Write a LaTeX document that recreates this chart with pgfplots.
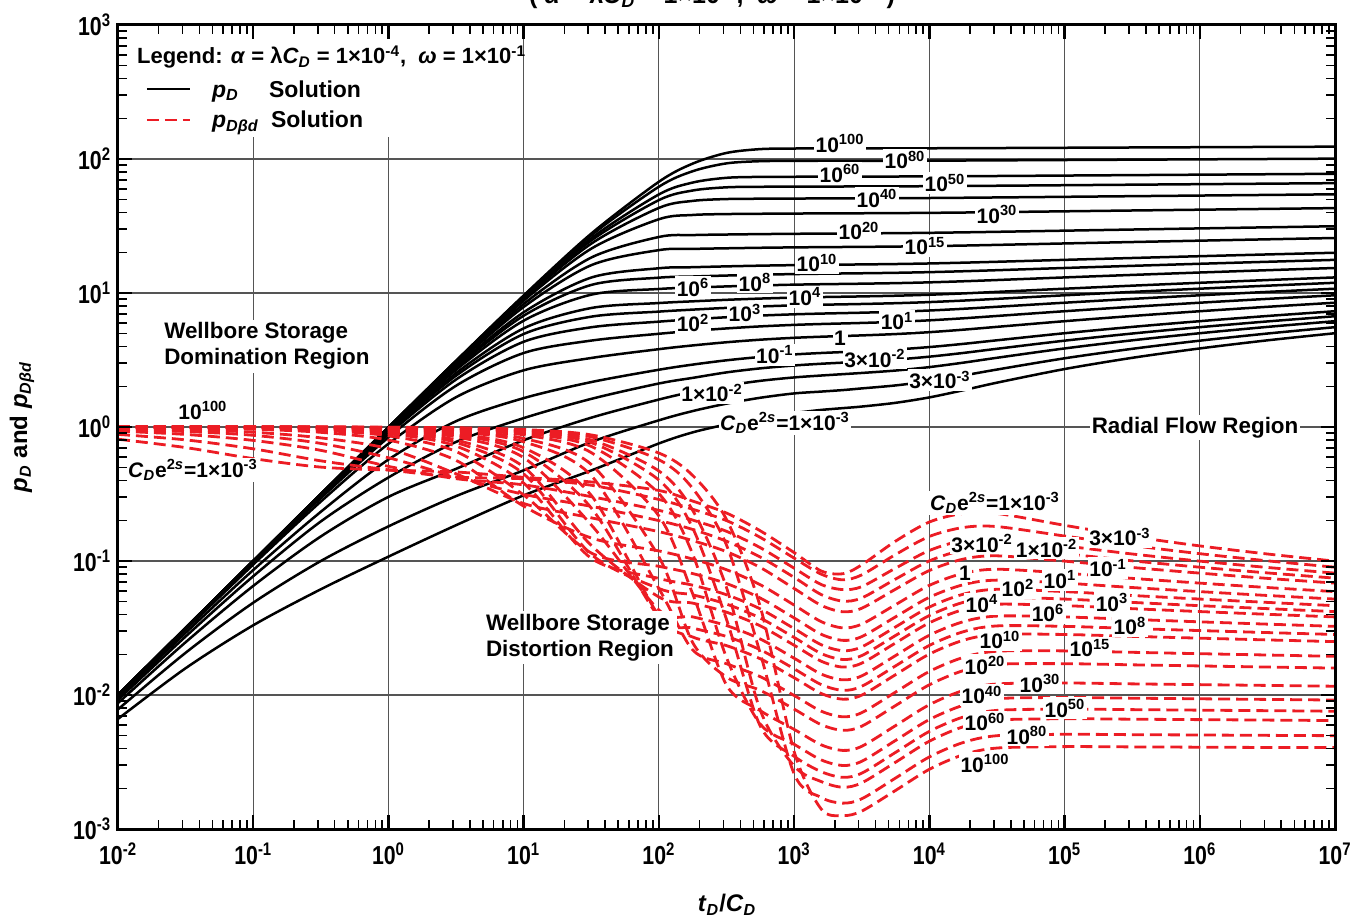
\documentclass[border=0pt]{standalone}
\usepackage{fontspec}
\setmainfont{Liberation Sans}
\usepackage{pgfplots}
\usepackage{pgfplotstable}
\pgfplotsset{compat=1.18}

\definecolor{wsred}{RGB}{236,28,36}
\definecolor{gridgray}{RGB}{85,85,85}

% tick label: condensed power of ten
\newcommand{\tl}[1]{\scalebox{0.82}[1]{10\textsuperscript{#1}}}
\newcommand{\pt}[1]{10\textsuperscript{#1}}
\newcommand{\CDs}{\textit{C}\textsubscript{\textit{D}}e\textsuperscript{2\textit{s}}}

% p_D for each C_D e^{2s}
\pgfplotstableread{
x m3 t3 m2 t2 m1 p0 p1 p2 p3 p4 p6 p8 p10 p15 p20 p30 p40 p50 p60 p80 p100
0.01 0.00663 0.007814 0.008704 0.009215 0.00955 0.009842 0.009938 0.00997 0.00998 0.009987 0.009992 0.009994 0.009995 0.009997 0.009998 0.009999 0.009999 0.009999 0.009999 0.01 0.01
0.03162 0.01584 0.02066 0.02476 0.02731 0.02909 0.03062 0.03120 0.03139 0.03147 0.03151 0.03155 0.03156 0.03158 0.03159 0.03160 0.03161 0.03161 0.03161 0.03161 0.03161 0.03162
0.1 0.03314 0.04882 0.06517 0.07694 0.08563 0.09402 0.09703 0.09819 0.09871 0.09901 0.09932 0.09948 0.09958 0.09972 0.09979 0.09986 0.09989 0.09991 0.09993 0.09995 0.09996
0.3162 0.06153 0.1000 0.1525 0.1974 0.2330 0.2777 0.2943 0.3015 0.3052 0.3075 0.3100 0.3114 0.3122 0.3135 0.3141 0.3148 0.3151 0.3154 0.3155 0.3157 0.3158
1 0.1078 0.1813 0.3010 0.4202 0.5715 0.7500 0.8369 0.8809 0.9063 0.9229 0.9432 0.9550 0.9627 0.9739 0.9799 0.9863 0.9896 0.9916 0.9929 0.9947 0.9957
3.162 0.185 0.305 0.4873 0.7737 1.105 1.669 2.032 2.261 2.414 2.524 2.668 2.760 2.822 2.918 2.971 3.030 3.061 3.080 3.093 3.110 3.120
10 0.309 0.475 0.797 1.165 1.642 2.649 3.566 4.326 4.943 5.447 6.216 6.767 7.181 7.867 8.285 8.771 9.042 9.214 9.334 9.491 9.587
31.62 0.474 0.774 1.174 1.622 2.164 3.274 4.415 5.551 6.660 7.730 9.720 11.488 13.040 16.133 18.394 21.425 23.342 24.657 25.616 26.911 27.752
100 0.754 1.122 1.603 2.112 2.675 3.810 4.962 6.113 7.264 8.416 10.717 13.015 15.301 20.897 26.190 35.523 43.151 49.342 54.403 62.101 67.631
177.8 0.912 1.315 1.832 2.326 2.922 4.062 5.214 6.365 7.516 8.667 10.970 13.273 15.575 21.327 27.05 38.215 48.672 58.185 66.707 81.030 92.378
316.2 1.046 1.494 2.036 2.556 3.146 4.290 5.441 6.593 7.744 8.895 11.198 13.500 15.803 21.560 27.316 38.818 50.248 61.483 72.382 92.768 110.963
562.3 1.181 1.653 2.211 2.739 3.332 4.483 5.634 6.786 7.937 9.088 11.391 13.693 15.996 21.753 27.509 39.022 50.534 62.041 73.526 96.301 118.527
1000 1.272 1.781 2.344 2.878 3.480 4.631 5.782 6.934 8.085 9.236 11.539 13.841 16.144 21.900 27.657 39.170 50.683 62.196 73.709 96.732 119.733
1585 1.341 1.838 2.422 2.965 3.567 4.718 5.870 7.021 8.172 9.324 11.626 13.929 16.231 21.988 27.744 39.257 50.770 62.283 73.796 96.822 119.848
2291 1.383 1.886 2.479 3.022 3.624 4.775 5.926 7.078 8.229 9.380 11.683 13.985 16.288 22.044 27.801 39.314 50.827 62.340 73.853 96.879 119.905
3162 1.421 1.941 2.531 3.073 3.675 4.826 5.978 7.129 8.280 9.432 11.734 14.037 16.339 22.096 27.852 39.365 50.878 62.391 73.904 96.930 119.956
5623 1.515 2.043 2.638 3.185 3.787 4.938 6.089 7.241 8.392 9.543 11.846 14.148 16.451 22.208 27.964 39.477 50.990 62.503 74.016 97.042 120.068
10000 1.663 2.200 2.799 3.348 3.950 5.101 6.253 7.404 8.555 9.706 12.009 14.312 16.614 22.371 28.127 39.640 51.153 62.666 74.179 97.205 120.231
17783 1.880 2.422 3.020 3.569 4.171 5.323 6.474 7.625 8.777 9.928 12.231 14.533 16.836 22.592 28.349 39.862 51.375 62.888 74.401 97.427 120.453
31623 2.142 2.684 3.286 3.835 4.437 5.589 6.740 7.891 9.043 10.194 12.497 14.799 17.102 22.858 28.615 40.128 51.641 63.154 74.667 97.693 120.719
1e5 2.707 3.256 3.858 4.408 5.010 6.161 7.312 8.464 9.615 10.766 13.069 15.371 17.674 23.431 29.187 40.700 52.213 63.726 75.239 98.265 121.291
3.162e5 3.283 3.832 4.434 4.983 5.585 6.737 7.888 9.039 10.19 11.342 13.644 15.947 18.250 24.006 29.763 41.276 52.789 64.302 75.815 98.841 121.867
1e6 3.858 4.408 5.010 5.559 6.161 7.312 8.464 9.615 10.77 11.918 14.220 16.523 18.825 24.582 30.338 41.851 53.364 64.877 76.390 99.416 122.442
3.162e6 4.434 4.983 5.585 6.135 6.737 7.888 9.039 10.191 11.34 12.493 14.796 17.098 19.401 25.157 30.914 42.427 53.940 65.453 76.966 99.992 123.018
1e7 5.010 5.559 6.161 6.710 7.312 8.464 9.615 10.766 11.92 13.069 15.371 17.674 19.977 25.733 31.490 43.003 54.516 66.029 77.542 100.568 123.594
}\pDtab

% p_Dbd (log-derivative) for each C_D e^{2s}
\pgfplotstableread{
x m3 t3 m2 t2 m1 p0 p1 p2 p3 p4 p6 p8 p10 p15 p20 p30 p40 p50 p60 p80 p100
0.01 0.811 0.8812 0.9312 0.9587 0.9761 0.991 0.9961 0.9978 0.9985 0.9989 0.99925 0.99944 0.99955 0.9997 0.99978 0.99986 0.9999 0.99991 0.99993 0.99995 0.99996
0.03162 0.7024 0.8016 0.8799 0.9254 0.9561 0.981 0.9909 0.9943 0.9959 0.9968 0.9978 0.99835 0.99866 0.99911 0.99933 0.99955 0.99966 0.99973 0.99977 0.99983 0.99987
0.1 0.581 0.6875 0.7943 0.8669 0.9141 0.9618 0.9778 0.985 0.9888 0.9910 0.99363 0.99507 0.99598 0.99725 0.99791 0.9986 0.99894 0.99915 0.99929 0.99947 0.99957
0.3162 0.502 0.5591 0.6696 0.7546 0.8294 0.9125 0.9445 0.9599 0.9688 0.9745 0.9813 0.9853 0.9879 0.9916 0.9936 0.99562 0.99667 0.99733 0.99777 0.99832 0.99865
1 0.477 0.4791 0.5084 0.5895 0.6888 0.7985 0.8586 0.892 0.9132 0.9275 0.9455 0.9564 0.9637 0.9744 0.9802 0.9864 0.9897 0.9917 0.9930 0.9947 0.9957
3.162 0.4616 0.423 0.4116 0.4242 0.4478 0.5640 0.6565 0.7208 0.7664 0.7996 0.8443 0.873 0.8928 0.9228 0.9397 0.9580 0.9679 0.9740 0.9781 0.9834 0.9866
10 0.421 0.4105 0.370 0.3144 0.2686 0.2567 0.3109 0.3814 0.447 0.5034 0.5905 0.6534 0.6999 0.7762 0.8218 0.8733 0.9019 0.9200 0.9324 0.9485 0.9584
31.62 0.389 0.3676 0.302 0.2556 0.210 0.1485 0.1147 0.1048 0.112 0.1307 0.1861 0.2487 0.3088 0.434 0.5253 0.6441 0.7163 0.7645 0.80 0.8442 0.8728
100 0.336 0.2878 0.2389 0.2002 0.1656 0.1189 0.0913 0.0741 0.0623 0.0539 0.0431 0.0382 0.0389 0.0623 0.1073 0.2169 0.3182 0.4018 0.4695 0.5697 0.6393
177.8 0.280 0.2433 0.202 0.172 0.1420 0.1034 0.0806 0.0660 0.0559 0.0485 0.0383 0.03164 0.0271 0.0217 0.0246 0.0569 0.1126 0.1763 0.2388 0.3483 0.4350
316.2 0.228 0.2003 0.1666 0.1405 0.1174 0.0861 0.0679 0.0560 0.0477 0.0415 0.03297 0.02735 0.02336 0.01712 0.0136 0.01187 0.0190 0.0367 0.0634 0.1316 0.2043
562.3 0.168 0.150 0.1257 0.107 0.0894 0.0665 0.0529 0.0439 0.0375 0.0328 0.02616 0.02176 0.01863 0.0137 0.01083 0.00764 0.00606 0.00585 0.00769 0.0204 0.0455
1000 0.1156 0.1051 0.0884 0.0755 0.0624 0.0469 0.0376 0.0313 0.0269 0.02352 0.01882 0.01569 0.01345 0.00992 0.00785 0.00554 0.00429 0.00349 0.00295 0.00258 0.00379
1585 0.0843 0.0798 0.0668 0.0562 0.0467 0.0353 0.0284 0.02374 0.0204 0.01788 0.01434 0.01197 0.01027 0.00758 0.00601 0.00425 0.00328 0.00268 0.00226 0.00172 0.00141
2291 0.0803 0.0724 0.0612 0.0502 0.0418 0.0317 0.02558 0.02142 0.01842 0.01616 0.01298 0.01084 0.00931 0.00688 0.00545 0.00386 0.00298 0.00243 0.00205 0.00156 0.00126
3162 0.0936 0.0788 0.0644 0.0530 0.0444 0.0338 0.02727 0.02286 0.01969 0.01728 0.01389 0.01161 0.00998 0.00738 0.00585 0.00414 0.00320 0.00261 0.00221 0.00168 0.00136
5623 0.1406 0.1117 0.0884 0.0733 0.0616 0.0472 0.0383 0.03222 0.0278 0.02445 0.01969 0.01649 0.01418 0.01051 0.00834 0.00591 0.00458 0.00373 0.00315 0.00240 0.00194
10000 0.1954 0.1525 0.1198 0.1002 0.0849 0.0658 0.0536 0.0453 0.0392 0.03456 0.02793 0.02344 0.02019 0.01499 0.01192 0.00846 0.00656 0.00535 0.00452 0.00345 0.00279
17783 0.2266 0.1778 0.1426 0.1207 0.1033 0.0809 0.0665 0.0565 0.0491 0.04338 0.03521 0.02964 0.02558 0.01906 0.01519 0.01080 0.00838 0.00685 0.00579 0.00442 0.00358
31623 0.2264 0.1807 0.1476 0.1265 0.1093 0.0868 0.0720 0.0615 0.0536 0.04759 0.03882 0.03278 0.02837 0.02122 0.01695 0.01209 0.00939 0.00768 0.00650 0.00497 0.00402
1e5 0.1847 0.1536 0.1296 0.1134 0.0998 0.0812 0.0684 0.0591 0.0520 0.04644 0.03826 0.03253 0.02829 0.02134 0.01713 0.01229 0.00958 0.00785 0.00665 0.00509 0.00412
3.162e5 0.1523 0.1305 0.1128 0.1003 0.0895 0.0742 0.0634 0.0553 0.0491 0.04408 0.03665 0.03135 0.02740 0.02083 0.01680 0.01211 0.00947 0.00778 0.00660 0.00506 0.00410
1e6 0.1296 0.1134 0.0998 0.0899 0.0812 0.0684 0.0591 0.0520 0.0464 0.04195 0.03516 0.03026 0.02656 0.02034 0.01648 0.01195 0.00937 0.00771 0.00655 0.00503 0.00408
3.162e6 0.1128 0.1003 0.0895 0.0815 0.0742 0.0634 0.0553 0.0491 0.0441 0.04002 0.03379 0.02924 0.02577 0.01988 0.01617 0.01179 0.00927 0.00764 0.00650 0.00500 0.00406
1e7 0.0998 0.0899 0.0812 0.0745 0.0684 0.0591 0.0520 0.0464 0.0419 0.03826 0.03253 0.02829 0.02503 0.01943 0.01588 0.01163 0.00917 0.00757 0.00645 0.00497 0.00405
}\pDbdtab

\tikzset{
  blk/.style={black, line width=1.25pt, smooth},
  rdd/.style={wsred, line width=1.4pt, dash pattern=on 6pt off 3pt, smooth},
  gridln/.style={gridgray, line width=0.6pt},
  lab/.style={fill=white, inner sep=0.8pt, font=\fontsize{10.5}{10.5}\selectfont\bfseries},
  txt/.style={fill=white, inner sep=1.5pt, align=left, font=\fontsize{11.2}{13}\selectfont\bfseries},
}

\begin{document}
\begin{tikzpicture}[font=\bfseries]
\begin{axis}[
  xmode=log, ymode=log,
  xmin=1e-2, xmax=1e7, ymin=1e-3, ymax=1e3,
  width=608.5pt, height=402pt, scale only axis,
  axis on top, clip mode=individual,
  axis line style={line width=1.5pt},
  tick align=inside,
  major tick length=7pt, minor tick length=4.5pt,
  tick style={black},
  major tick style={line width=1.2pt},
  minor tick style={line width=0.8pt},
  xtick={1e-2,1e-1,1,1e1,1e2,1e3,1e4,1e5,1e6,1e7},
  xticklabels={\tl{-2},\tl{-1},\tl{0},\tl{1},\tl{2},\tl{3},\tl{4},\tl{5},\tl{6},\tl{7}},
  ytick={1e-3,1e-2,1e-1,1,1e1,1e2,1e3},
  yticklabels={\tl{-3},\tl{-2},\tl{-1},\tl{0},\tl{1},\tl{2},\tl{3}},
  minor xtick={2e-2,3e-2,4e-2,5e-2,6e-2,7e-2,8e-2,9e-2,
    2e-1,3e-1,4e-1,5e-1,6e-1,7e-1,8e-1,9e-1,
    2,3,4,5,6,7,8,9, 20,30,40,50,60,70,80,90,
    200,300,400,500,600,700,800,900,
    2e3,3e3,4e3,5e3,6e3,7e3,8e3,9e3,
    2e4,3e4,4e4,5e4,6e4,7e4,8e4,9e4,
    2e5,3e5,4e5,5e5,6e5,7e5,8e5,9e5,
    2e6,3e6,4e6,5e6,6e6,7e6,8e6,9e6},
  minor ytick={2e-3,3e-3,4e-3,5e-3,6e-3,7e-3,8e-3,9e-3,
    2e-2,3e-2,4e-2,5e-2,6e-2,7e-2,8e-2,9e-2,
    2e-1,3e-1,4e-1,5e-1,6e-1,7e-1,8e-1,9e-1,
    2,3,4,5,6,7,8,9, 20,30,40,50,60,70,80,90,
    200,300,400,500,600,700,800,900},
  ticklabel style={font=\fontsize{13}{13}\selectfont\bfseries},
  xticklabel style={yshift=-3.5pt},
]
\coordinate (bbSW) at (rel axis cs:-0.09696,-0.11194);
\coordinate (bbNE) at (rel axis cs:1.01561,1.03109);

% decade grid
\draw[gridln] (axis cs:0.1,1e-3) -- (axis cs:0.1,1e3);
\draw[gridln] (axis cs:1,1e-3) -- (axis cs:1,1e3);
\draw[gridln] (axis cs:10,1e-3) -- (axis cs:10,1e3);
\draw[gridln] (axis cs:100,1e-3) -- (axis cs:100,1e3);
\draw[gridln] (axis cs:1e3,1e-3) -- (axis cs:1e3,1e3);
\draw[gridln] (axis cs:1e4,1e-3) -- (axis cs:1e4,1e3);
\draw[gridln] (axis cs:1e5,1e-3) -- (axis cs:1e5,1e3);
\draw[gridln] (axis cs:1e6,1e-3) -- (axis cs:1e6,1e3);
\draw[gridln] (axis cs:1e-2,1e-2) -- (axis cs:1e7,1e-2);
\draw[gridln] (axis cs:1e-2,1e-1) -- (axis cs:1e7,1e-1);
\draw[gridln] (axis cs:1e-2,1) -- (axis cs:1e7,1);
\draw[gridln] (axis cs:1e-2,10) -- (axis cs:1e7,10);
\draw[gridln] (axis cs:1e-2,100) -- (axis cs:1e7,100);

% legend panel
\fill[white] (rel axis cs:0.0016,0.8607) rectangle (rel axis cs:0.3287,0.9975);

\pgfplotsinvokeforeach{m3,t3,m2,t2,m1,p0,p1,p2,p3,p4,p6,p8,p10,p15,p20,p30,p40,p50,p60,p80,p100}{
  \addplot[blk] table[x=x,y=#1]{\pDtab};
}
\pgfplotsinvokeforeach{m3,t3,m2,t2,m1,p0,p1,p2,p3,p4,p6,p8,p10,p15,p20,p30,p40,p50,p60,p80,p100}{
  \addplot[rdd] table[x=x,y=#1]{\pDbdtab};
}

% legend
\node[anchor=base west, font=\fontsize{11}{11}\selectfont\bfseries] at (rel axis cs:0.0099,0.9515)
  {Legend: \textit{α} = λ\textit{C}\textsubscript{\textit{D}} = 1×10\textsuperscript{-4}, \ \textit{ω} = 1×10\textsuperscript{-1}};
\draw[black, line width=1.25pt] (rel axis cs:0.0238,0.9204) -- (rel axis cs:0.0592,0.9204);
\draw[wsred, line width=1.4pt, dash pattern=on 6pt off 3pt] (rel axis cs:0.0238,0.8818) -- (rel axis cs:0.0592,0.8818);
\node[anchor=base west, font=\fontsize{11.5}{11.5}\selectfont\bfseries] at (rel axis cs:0.0715,0.9104) {\textit{p}\textsubscript{\textit{D}}};
\node[anchor=base west, font=\fontsize{11.5}{11.5}\selectfont\bfseries] at (rel axis cs:0.1183,0.9104) {Solution};
\node[anchor=base west, font=\fontsize{11.5}{11.5}\selectfont\bfseries] at (rel axis cs:0.0715,0.8719) {\textit{p}\textsubscript{\textit{Dβd}}};
\node[anchor=base west, font=\fontsize{11.5}{11.5}\selectfont\bfseries] at (rel axis cs:0.1200,0.8719) {Solution};

% region notes
\node[txt] at (rel axis cs:0.1224,0.6007) {Wellbore Storage\\Domination Region};
\node[txt] at (rel axis cs:0.3796,0.2376) {Wellbore Storage\\Distortion Region};
\node[txt, inner sep=1pt] at (rel axis cs:0.8850,0.4988) {Radial Flow Region};

% p_D curve labels
\node[lab] at (rel axis cs:0.5933,0.8532) {\pt{100}};
\node[lab] at (rel axis cs:0.6467,0.8321) {\pt{80}};
\node[lab] at (rel axis cs:0.5933,0.8159) {\pt{60}};
\node[lab] at (rel axis cs:0.6795,0.8035) {\pt{50}};
\node[lab] at (rel axis cs:0.6237,0.7848) {\pt{40}};
\node[lab] at (rel axis cs:0.7223,0.7649) {\pt{30}};
\node[lab] at (rel axis cs:0.6089,0.7438) {\pt{20}};
\node[lab] at (rel axis cs:0.6631,0.7251) {\pt{15}};
\node[lab] at (rel axis cs:0.5744,0.7040) {\pt{10}};
\node[lab] at (rel axis cs:0.5234,0.6803) {\pt{8}};
\node[lab] at (rel axis cs:0.4725,0.6741) {\pt{6}};
\node[lab] at (rel axis cs:0.5645,0.6617) {\pt{4}};
\node[lab] at (rel axis cs:0.5152,0.6418) {\pt{3}};
\node[lab] at (rel axis cs:0.4725,0.6294) {\pt{2}};
\node[lab] at (rel axis cs:0.6401,0.6318) {\pt{1}};
\node[lab] at (rel axis cs:0.5933,0.6107) {1};
\node[lab] at (rel axis cs:0.5398,0.5896) {\pt{-1}};
\node[lab] at (rel axis cs:0.6220,0.5858) {3×\pt{-2}};
\node[lab] at (rel axis cs:0.6754,0.5585) {3×\pt{-3}};
\node[lab] at (rel axis cs:0.4881,0.5423) {1×\pt{-2}};
\node[lab] at (rel axis cs:0.5481,0.5050) {\CDs=1×\pt{-3}};

% p_Dbd curve labels
\node[lab] at (rel axis cs:0.0698,0.5211) {\pt{100}};
\node[lab] at (rel axis cs:0.0616,0.4465) {\CDs=1×\pt{-3}};
\node[lab] at (rel axis cs:0.7206,0.4055) {\CDs=1×\pt{-3}};
\node[lab] at (rel axis cs:0.7100,0.3557) {3×\pt{-2}};
\node[lab] at (rel axis cs:0.7630,0.3495) {1×\pt{-2}};
\node[lab] at (rel axis cs:0.8233,0.3632) {3×\pt{-3}};
\node[lab] at (rel axis cs:0.8135,0.3246) {\pt{-1}};
\node[lab] at (rel axis cs:0.6960,0.3184) {1};
\node[lab] at (rel axis cs:0.7740,0.3097) {\pt{1}};
\node[lab] at (rel axis cs:0.7395,0.2998) {\pt{2}};
\node[lab] at (rel axis cs:0.8168,0.2823) {\pt{3}};
\node[lab] at (rel axis cs:0.7099,0.2799) {\pt{4}};
\node[lab] at (rel axis cs:0.7642,0.2687) {\pt{6}};
\node[lab] at (rel axis cs:0.8315,0.2525) {\pt{8}};
\node[lab] at (rel axis cs:0.7247,0.2351) {\pt{10}};
\node[lab] at (rel axis cs:0.7987,0.2251) {\pt{15}};
\node[lab] at (rel axis cs:0.7124,0.2040) {\pt{20}};
\node[lab] at (rel axis cs:0.7576,0.1816) {\pt{30}};
\node[lab] at (rel axis cs:0.7099,0.1667) {\pt{40}};
\node[lab] at (rel axis cs:0.7781,0.1505) {\pt{50}};
\node[lab] at (rel axis cs:0.7124,0.1331) {\pt{60}};
\node[lab] at (rel axis cs:0.7469,0.1169) {\pt{80}};
\node[lab] at (rel axis cs:0.7124,0.0821) {\pt{100}};

% axis titles
\node[rotate=90, font=\fontsize{12}{12}\selectfont\bfseries] at (rel axis cs:-0.0789,0.5)
  {\textit{p}\textsubscript{\textit{D}} and \textit{p}\textsubscript{\textit{Dβd}}};
\node[font=\fontsize{12}{12}\selectfont\bfseries] at (rel axis cs:0.5004,-0.0945)
  {\textit{t}\textsubscript{\textit{D}}/\textit{C}\textsubscript{\textit{D}}};
\node[anchor=base, font=\fontsize{12.5}{12.5}\selectfont\bfseries] at (rel axis cs:0.4881,1.0268)
  {( \textit{α} = λ\textit{C}\textsubscript{\textit{D}} = 1×10\textsuperscript{-4}, \ \textit{ω} = 1×10\textsuperscript{-1} )};
\end{axis}
\pgfresetboundingbox
\path[use as bounding box] (bbSW) rectangle (bbNE);
\end{tikzpicture}
\end{document}
